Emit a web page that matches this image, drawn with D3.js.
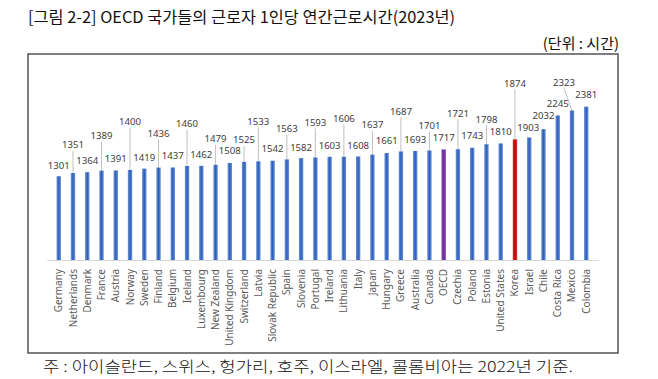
<!DOCTYPE html>
<html>
<head>
<meta charset="utf-8">
<script src="https://cdn.jsdelivr.net/npm/d3@7"></script>
<style>
  html, body { margin: 0; padding: 0; background: #fff; }
  svg { display: block; }
</style>
</head>
<body>
<div id="chart"></div>
<script>
// Data
const countries = ['Germany', 'Netherlands', 'Denmark', 'France', 'Austria', 'Norway', 'Sweden',
    'Finland', 'Belgium', 'Iceland', 'Luxembourg', 'New Zealand', 'United Kingdom', 'Switzerland',
    'Latvia', 'Slovak Republic', 'Spain', 'Slovenia', 'Portugal', 'Ireland', 'Lithuania', 'Italy',
    'Japan', 'Hungary', 'Greece', 'Australia', 'Canada', 'OECD', 'Czechia', 'Poland', 'Estonia',
    'United States', 'Korea', 'Israel', 'Chile', 'Costa Rica', 'Mexico', 'Colombia'];
const hours = [1301, 1351, 1364, 1389, 1391, 1400, 1419, 1436, 1437, 1460, 1462, 1479, 1508, 1525,
    1533, 1542, 1563, 1582, 1593, 1603, 1606, 1608, 1637, 1661, 1687, 1693, 1701, 1717, 1721, 1743,
    1798, 1810, 1874, 1903, 2032, 2245, 2323, 2381];

const titleText = '[그림 2-2] OECD 국가들의 근로자 1인당 연간근로시간(2023년)';
const unitText = '(단위 : 시간)';
const noteText = '주 : 아이슬란드, 스위스, 헝가리, 호주, 이스라엘, 콜롬비아는 2022년 기준.';

// Label layout (how far each value label sits above its bar, and sideways nudge)
const labelLift = [11, 28, 12, 35, 12, 48, 11, 34, 12, 42, 11, 26, 12, 22, 40, 12, 31, 11, 35, 11,
    38, 11, 30, 12, 40, 11, 25, 12, 36, 12, 25, 12, 56, 10, 14, 12, 28, 12];
const labelShift = { 'Mexico': -8, 'Israel': -1 };

const width = 658, height = 379;
const axisY = 260;

const svg = d3.select('#chart')
    .append('svg')
    .attr('width', width)
    .attr('height', height);

// Gradients give the bars their slightly rounded look
const defs = svg.append('defs');
const barColors = { blue: ['#6f97da', '#2c5db8'], purple: ['#8a4fb8', '#6a2a9c'], red: ['#dc3a3a', '#c00000'] };
Object.entries(barColors).forEach(([name, [edge, mid]]) => {
    const g = defs.append('linearGradient').attr('id', 'g-' + name).attr('x1', 0).attr('x2', 1);
    g.append('stop').attr('offset', '0%').attr('stop-color', edge);
    g.append('stop').attr('offset', '50%').attr('stop-color', mid);
    g.append('stop').attr('offset', '100%').attr('stop-color', edge);
});
function barFill(name) {
    if (name === 'OECD') return 'url(#g-purple)';
    if (name === 'Korea') return 'url(#g-red)';
    return 'url(#g-blue)';
}

// Title and unit
svg.append('text')
    .attr('x', 28).attr('y', 23)
    .attr('font-family', 'Noto Sans CJK KR')
    .attr('font-size', 16)
    .attr('fill', '#111')
    .attr('textLength', 427)
    .attr('lengthAdjust', 'spacingAndGlyphs')
    .text(titleText);

svg.append('text')
    .attr('x', 619).attr('y', 49)
    .attr('text-anchor', 'end')
    .attr('font-family', 'Noto Sans CJK KR')
    .attr('font-size', 15)
    .attr('fill', '#111')
    .text(unitText);

// Frame
svg.append('rect')
    .attr('x', 28).attr('y', 54)
    .attr('width', 590).attr('height', 299)
    .attr('fill', 'none')
    .attr('stroke', '#3a3a3a')
    .attr('stroke-width', 1.3);

// Scales
const x = d3.scaleBand()
    .domain(countries)
    .range([46.7, 598.3])
    .padding(0.69);

const y = d3.scaleLinear()
    .domain([0, 2500])
    .range([axisY, axisY - 2500 * 0.06438]);

const data = countries.map((c, i) => ({ country: c, value: hours[i], lift: labelLift[i] }));

// Bars
svg.append('g')
    .selectAll('rect')
    .data(data)
    .enter()
    .append('rect')
    .attr('x', d => x(d.country))
    .attr('y', d => y(d.value))
    .attr('width', x.bandwidth())
    .attr('height', d => y(0) - y(d.value))
    .attr('fill', d => barFill(d.country));

// X axis
const xAxis = svg.append('g')
    .attr('transform', `translate(0,${axisY})`)
    .call(d3.axisBottom(x).tickSize(0).tickPadding(0));
xAxis.select('.domain').attr('stroke', '#d9d9d9');
xAxis.selectAll('text')
    .attr('font-family', 'Noto Sans')
    .attr('font-size', 10)
    .attr('fill', '#595959')
    .attr('text-anchor', 'end')
    .attr('transform', 'rotate(-90)')
    .attr('x', -9)
    .attr('y', 0)
    .attr('dy', '0.35em');

// Value labels with leader lines
const cx = d => x(d.country) + x.bandwidth() / 2;
const lx = d => cx(d) + (labelShift[d.country] || 0);

svg.append('g')
    .selectAll('line')
    .data(data.filter(d => d.lift > 16))
    .enter()
    .append('line')
    .attr('x1', d => lx(d))
    .attr('y1', d => y(d.value) - d.lift + 6)
    .attr('x2', d => cx(d))
    .attr('y2', d => y(d.value))
    .attr('stroke', '#bfbfbf')
    .attr('stroke-width', 1);

svg.append('g')
    .selectAll('text')
    .data(data)
    .enter()
    .append('text')
    .attr('x', d => lx(d))
    .attr('y', d => y(d.value) - d.lift)
    .attr('dy', '0.35em')
    .attr('text-anchor', 'middle')
    .attr('font-family', 'Noto Sans')
    .attr('font-size', 9.6)
    .attr('fill', '#404040')
    .text(d => d.value);

// Footnote
svg.append('text')
    .attr('x', 43).attr('y', 372)
    .attr('font-family', 'Noto Sans CJK KR')
    .attr('font-size', 15)
    .attr('font-weight', 300)
    .attr('fill', '#111')
    .attr('textLength', 530)
    .attr('lengthAdjust', 'spacingAndGlyphs')
    .text(noteText);
</script>
</body>
</html>
